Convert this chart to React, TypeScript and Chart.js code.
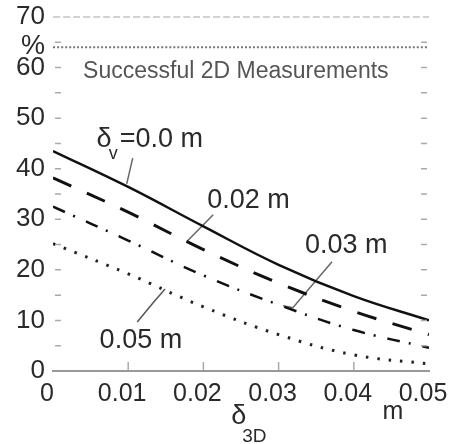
import React, { useEffect, useRef } from 'react';
import { Chart, registerables } from 'chart.js';
Chart.register(...registerables);

const FONT = '"Liberation Sans", Arial, Helvetica, sans-serif';

// delta_3D (m)
const xValues = [0, 0.01, 0.02, 0.03, 0.04, 0.05];
// Successful 2D measurements (%) for each delta_v
const dv000 = [43.5, 36.4, 28.6, 21.0, 14.8, 10.0];
const dv002 = [38.2, 31.4, 24.0, 17.4, 11.8, 7.2];
const dv003 = [32.5, 25.8, 18.9, 13.1, 8.1, 4.6];
const dv005 = [25.2, 19.2, 12.7, 7.2, 3.2, 1.4];

const xTicks = [0, 0.01, 0.02, 0.03, 0.04, 0.05];
const yMin = 0;
const yMax = 70;
const yUpperFrame = 64;

// leader lines [x, y] in data units
const leader000 = [[0.0106, 42.1], [0.0098, 37.0]];
const leader002 = [[0.0213, 30.9], [0.0178, 25.6]];
const leader003 = [[0.0371, 21.6], [0.0319, 12.5], [0.0306, 12.9]];
const leader005 = [[0.0149, 16.2], [0.0136, 14.0], [0.0112, 9.7]];

// curve labels: text, anchor x, anchor y (left / baseline)
const curveLabels = [
  { text: '0.02 m', x: 0.0205, y: 32.2 },
  { text: '0.03 m', x: 0.0335, y: 23.3 },
  { text: '0.05 m', x: 0.0062, y: 4.55 },
];
const firstLabel = { x: 0.0058, y: 44.3, pre: 'δ', sub: 'v', post: '=0.0 m' };
const titleLabel = { text: 'Successful 2D Measurements', x: 0.004, y: 57.9 };

const pts = (ys: number[]) => xValues.map((x, i) => ({ x, y: ys[i] }));
const lpts = (arr: number[][]) => arr.map(([x, y]) => ({ x, y }));

const overlay = {
  id: 'overlay',
  afterDatasetsDraw(chart: any) {
    const { ctx, chartArea: ca, scales } = chart;
    const xs = scales.x;
    const ys = scales.y;
    ctx.save();
    // inner tick marks
    ctx.strokeStyle = '#aaa';
    ctx.lineWidth = 1.5;
    for (let v = yMin + 5; v < yMax; v += 5) {
      const py = ys.getPixelForValue(v);
      ctx.beginPath();
      ctx.moveTo(ca.left + 2, py);
      ctx.lineTo(ca.left + 8, py);
      ctx.moveTo(ca.right - 8, py);
      ctx.lineTo(ca.right - 2, py);
      ctx.stroke();
    }
    xTicks.slice(1, -1).forEach((v) => {
      const px = xs.getPixelForValue(v);
      ctx.beginPath();
      ctx.moveTo(px, ca.bottom - 1);
      ctx.lineTo(px, ca.bottom - 9);
      ctx.stroke();
    });

    ctx.textBaseline = 'alphabetic';
    ctx.textAlign = 'left';
    // title inside plot
    ctx.fillStyle = '#555';
    ctx.font = `23px ${FONT}`;
    ctx.fillText(titleLabel.text, xs.getPixelForValue(titleLabel.x), ys.getPixelForValue(titleLabel.y));

    ctx.fillStyle = '#2a2a2a';
    // first curve label with subscript
    ctx.font = `27px ${FONT}`;
    const px = xs.getPixelForValue(firstLabel.x);
    const py = ys.getPixelForValue(firstLabel.y);
    ctx.fillText(firstLabel.pre, px, py);
    const w = ctx.measureText(firstLabel.pre).width;
    ctx.font = `18px ${FONT}`;
    ctx.fillText(firstLabel.sub, px + w - 3, py + 12);
    ctx.font = `27px ${FONT}`;
    ctx.fillText(firstLabel.post, px + w + 8, py);

    curveLabels.forEach((l) => {
      ctx.fillText(l.text, xs.getPixelForValue(l.x), ys.getPixelForValue(l.y));
    });

    // percent sign
    ctx.font = `27px ${FONT}`;
    ctx.textAlign = 'center';
    ctx.fillText('%', ca.left - 20, ys.getPixelForValue(yUpperFrame) + 7);

    // x axis title
    const tx = xs.getPixelForValue(0.0245);
    ctx.textAlign = 'left';
    ctx.font = `27px ${FONT}`;
    ctx.fillText('δ', tx - 6, ca.bottom + 53);
    ctx.font = `19px ${FONT}`;
    ctx.fillText('3D', tx + 5, ca.bottom + 71);
    ctx.font = `25px ${FONT}`;
    ctx.fillText('m', xs.getPixelForValue(0.0438), ca.bottom + 48);
    ctx.restore();
  },
};

export default function App() {
  const ref = useRef<HTMLCanvasElement>(null);
  useEffect(() => {
    const canvas = ref.current!;
    const line = (data: any, color: string, width: number, dash: number[], extra: any = {}) => ({
      data,
      borderColor: color,
      borderWidth: width,
      borderDash: dash,
      pointRadius: 0,
      fill: false,
      tension: 0.4,
      ...extra,
    });
    const chart = new Chart(canvas, {
      type: 'line',
      data: {
        datasets: [
          line([{ x: 0, y: yMax }, { x: 0.05, y: yMax }], '#c4c4c4', 1.5, [7, 3], { clip: false }),
          line([{ x: 0, y: yUpperFrame }, { x: 0.05, y: yUpperFrame }], '#777', 2, [2, 2], { clip: false }),
          line(pts(dv000), '#111', 2.5, []),
          line(pts(dv002), '#111', 3, [20, 17]),
          line(pts(dv003), '#111', 2.5, [13, 9, 2, 12]),
          line(pts(dv005), '#222', 3, [2.5, 9]),
          line(lpts(leader000), '#666', 1.5, [], { tension: 0 }),
          line(lpts(leader002), '#666', 1.5, [], { tension: 0 }),
          line(lpts(leader003), '#666', 1.5, [], { tension: 0 }),
          line(lpts(leader005), '#555', 1.5, [], { tension: 0.4 }),
        ] as any,
      },
      options: {
        animation: false,
        responsive: false,
        devicePixelRatio: 1,
        layout: { padding: { left: 0, right: 25, top: 17, bottom: 0 } },
        plugins: { legend: { display: false }, tooltip: { enabled: false } },
        scales: {
          x: {
            type: 'linear',
            min: 0,
            max: 0.05,
            afterFit: (s: any) => { s.height = 73; s.paddingLeft = 0; s.paddingRight = 0; },
            grid: { display: false, drawTicks: false },
            border: { display: true, color: '#999', width: 2 },
            afterBuildTicks: (s: any) => { s.ticks = xTicks.map((v) => ({ value: v })); },
            ticks: {
              padding: 8,
              labelOffset: -6,
              color: '#2a2a2a',
              font: { family: FONT, size: 25 },
              maxRotation: 0,
              autoSkip: false,
              callback: (v: any) => Number(Number(v).toFixed(2)).toString(),
            },
          },
          y: {
            type: 'linear',
            min: yMin,
            max: yMax,
            afterFit: (s: any) => { s.width = 53; s.paddingTop = 0; s.paddingBottom = 0; },
            grid: { display: false, drawTicks: false },
            border: { display: false },
            ticks: {
              stepSize: 5,
              padding: 8,
              color: '#2a2a2a',
              font: { family: FONT, size: 26, lineHeight: 1 },
              callback: (v: any) => (Number(v) % 10 === 0 ? String(v) : ''),
            },
          },
        },
      } as any,
      plugins: [overlay],
    });
    return () => chart.destroy();
  }, []);
  return (
    <div style={{ position: 'fixed', left: 0, top: 0, width: 454, height: 444, background: '#fff' }}>
      <canvas ref={ref} width={454} height={444} style={{ display: 'block' }} />
    </div>
  );
}
